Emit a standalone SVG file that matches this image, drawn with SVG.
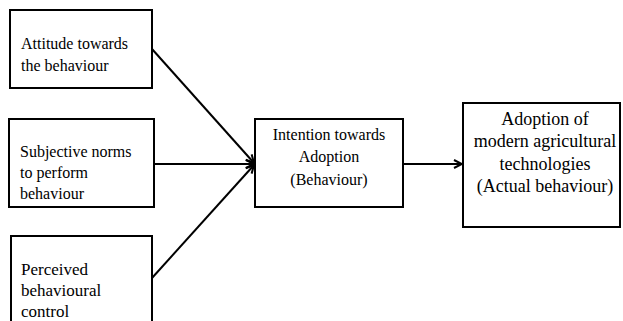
<svg xmlns="http://www.w3.org/2000/svg" width="623" height="321" viewBox="0 0 623 321">
<style>
.box{fill:#fff;stroke:#000;stroke-width:2}
.t{font-family:"Liberation Serif","Times New Roman",serif;font-size:16px;fill:#000}
.m{font-size:17px}
.l{font-size:18px}
.c{text-anchor:middle}
.ln{fill:none;stroke:#000;stroke-width:2}
</style>
<defs>
<marker id="ah" viewBox="0 0 10 10" refX="9" refY="5" markerWidth="10" markerHeight="10" markerUnits="userSpaceOnUse" orient="auto">
<path d="M1,1 L9,5 L1,9" fill="none" stroke="#000" stroke-width="2"/>
</marker>
</defs>
<rect width="623" height="321" fill="#fff"/>
<g id="n1">
<rect class="box" x="10" y="10" width="142" height="78"/>
<text class="t" x="21" y="49">Attitude towards</text>
<text class="t" x="21" y="71">the behaviour</text>
</g>
<g id="n2">
<rect class="box" x="9" y="119" width="145" height="88"/>
<text class="t" x="20" y="157">Subjective norms</text>
<text class="t" x="20" y="178">to perform</text>
<text class="t" x="20" y="199">behaviour</text>
</g>
<g id="n3">
<rect class="box" x="11" y="236" width="141" height="100"/>
<text class="t m" x="21" y="275">Perceived</text>
<text class="t m" x="21" y="296">behavioural</text>
<text class="t m" x="21" y="317">control</text>
</g>
<g id="n4">
<rect class="box" x="255" y="119" width="148" height="88"/>
<text class="t c" x="329" y="140">Intention towards</text>
<text class="t c" x="329" y="162">Adoption</text>
<text class="t c" x="329" y="185">(Behaviour)</text>
</g>
<g id="n5">
<rect class="box" x="463" y="103" width="157" height="124"/>
<text class="t l c" x="545" y="125">Adoption of</text>
<text class="t l c" x="545" y="147">modern agricultural</text>
<text class="t l c" x="545" y="170">technologies</text>
<text class="t l c" x="545" y="192">(Actual behaviour)</text>
</g>
<g id="connectors">
<line class="ln" x1="152" y1="49" x2="254" y2="163" marker-end="url(#ah)"/>
<line class="ln" x1="154" y1="164" x2="254" y2="164" marker-end="url(#ah)"/>
<line class="ln" x1="152" y1="278" x2="254" y2="165" marker-end="url(#ah)"/>
<line class="ln" x1="403" y1="164" x2="462" y2="164" marker-end="url(#ah)"/>
</g>
</svg>
